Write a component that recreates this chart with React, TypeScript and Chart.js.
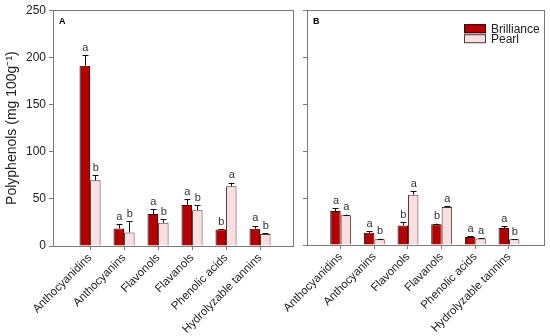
import React, { useEffect, useRef } from "react";
import { Chart, registerables } from "chart.js";

Chart.register(...registerables);

const categories = [
  "Anthocyanidins",
  "Anthocyanins",
  "Flavonols",
  "Flavanols",
  "Phenolic acids",
  "Hydrolyzable tannins",
];
const seriesNames = ["Brilliance", "Pearl"];
const yTicks = [0, 50, 100, 150, 200, 250];

// Panel A
const aBrilliance = [191, 18.6, 33.8, 43.6, 17.4, 18.3];
const aBrillianceErr = [11, 4.4, 5, 6, 0.4, 3];
const aBrillianceLetters = ["a", "a", "a", "a", "b", "a"];
const aPearl = [69.6, 14.4, 24.6, 38, 63.3, 12.7];
const aPearlErr = [5.5, 11.6, 3.6, 5, 3.8, 0.8];
const aPearlLetters = ["b", "b", "b", "b", "a", "b"];

// Panel B
const bBrilliance = [36.2, 13, 20.8, 22, 8.4, 18];
const bBrillianceErr = [3.2, 1.8, 3.4, 0.8, 0.7, 2];
const bBrillianceLetters = ["a", "a", "b", "b", "a", "a"];
const bPearl = [31.6, 6, 53.5, 40.4, 7, 6];
const bPearlErr = [0.8, 0.7, 3.5, 0.6, 0.3, 0.3];
const bPearlLetters = ["a", "b", "a", "a", "a", "b"];

const COLORS = {
  brilliance: "#b30000",
  brillianceBorder: "#3d0000",
  pearl: "#f9dfdf",
  pearlBorder: "#4d3a3a",
  frame: "#7a7a7a",
  text: "#222222",
};

const FONT = "'Liberation Sans', Arial, sans-serif";

type PanelProps = {
  panel: string;
  values: number[][];
  errors: number[][];
  letters: string[][];
  showYLabels: boolean;
  showLegend: boolean;
  xMin: number;
  xMax: number;
  width: number;
  yAxisWidth: number;
  rightPad: number;
  xAxisHeight: number;
  left: number;
};

function Panel(props: PanelProps) {
  const ref = useRef<HTMLCanvasElement | null>(null);
  useEffect(() => {
    if (!ref.current) return;
    const fills = [COLORS.brilliance, COLORS.pearl];
    const borders = [COLORS.brillianceBorder, COLORS.pearlBorder];
    const datasets = props.values.map((vals, di) => ({
      label: seriesNames[di],
      data: vals.map((v, i) => ({ x: i, y: v })),
      backgroundColor: fills[di],
      borderColor: borders[di],
      borderWidth: 1,
      borderSkipped: "bottom" as const,
      categoryPercentage: 0.62,
      barPercentage: 1.0,
    }));

    const overlay = {
      id: "overlay",
      afterDatasetsDraw(chart: any) {
        const ctx = chart.ctx;
        const ys = chart.scales.y;
        const area = chart.chartArea;
        ctx.save();
        // error bars and letters
        chart.data.datasets.forEach((ds: any, di: number) => {
          const meta = chart.getDatasetMeta(di);
          meta.data.forEach((el: any, i: number) => {
            const top = ys.getPixelForValue(props.values[di][i] + props.errors[di][i]);
            ctx.strokeStyle = "#111";
            ctx.lineWidth = 1;
            ctx.beginPath();
            ctx.moveTo(Math.round(el.x) + 0.5, el.y);
            ctx.lineTo(Math.round(el.x) + 0.5, top);
            ctx.moveTo(Math.round(el.x) - 2.5, Math.round(top) + 0.5);
            ctx.lineTo(Math.round(el.x) + 3.5, Math.round(top) + 0.5);
            ctx.stroke();
            ctx.fillStyle = "#333";
            ctx.font = `11px ${FONT}`;
            ctx.textAlign = "center";
            ctx.textBaseline = "bottom";
            ctx.fillText(props.letters[di][i], el.x + 0.5, top - 2);
          });
        });
        // frame
        ctx.strokeStyle = COLORS.frame;
        ctx.lineWidth = 1;
        ctx.strokeRect(
          Math.round(area.left) + 0.5,
          Math.round(area.top) + 0.5,
          Math.round(area.right - area.left),
          Math.round(area.bottom - area.top)
        );
        // panel letter
        ctx.fillStyle = "#000";
        ctx.font = `bold 9px ${FONT}`;
        ctx.textAlign = "left";
        ctx.textBaseline = "middle";
        ctx.fillText(props.panel, area.left + 6, area.top + 11);
        // legend
        if (props.showLegend) {
          chart.data.datasets.forEach((ds: any, di: number) => {
            const bx = area.right - 80;
            const by = area.top + 14 + di * 10;
            ctx.fillStyle = ds.backgroundColor;
            ctx.fillRect(bx, by, 22, 9);
            ctx.strokeStyle = ds.borderColor;
            ctx.strokeRect(bx + 0.5, by + 0.5, 21, 8);
            ctx.fillStyle = COLORS.text;
            ctx.font = `12px ${FONT}`;
            ctx.textBaseline = "middle";
            ctx.textAlign = "left";
            ctx.fillText(ds.label, bx + 27, by + 5);
          });
        }
        ctx.restore();
      },
    };

    const chart = new Chart(ref.current, {
      type: "bar",
      data: { datasets },
      options: {
        animation: false,
        responsive: false,
        maintainAspectRatio: false,
        layout: { padding: { top: 9, right: props.rightPad, left: 0, bottom: 0 } },
        plugins: { legend: { display: false }, tooltip: { enabled: false } },
        scales: {
          x: {
            type: "linear",
            offset: false,
            min: props.xMin,
            max: props.xMax,
            afterBuildTicks: (s: any) => {
              s.ticks = categories.map((_, i) => ({ value: i }));
            },
            afterFit: (s: any) => {
              s.height = props.xAxisHeight;
            },
            grid: {
              offset: false,
              drawOnChartArea: false,
              drawTicks: true,
              tickLength: 4,
              color: COLORS.frame,
            },
            border: { color: COLORS.frame },
            ticks: {
              autoSkip: false,
              maxRotation: 45,
              minRotation: 45,
              padding: 1,
              color: COLORS.text,
              font: { family: FONT, size: 11.5 },
              callback: (v: any) => categories[Math.round(Number(v))] ?? "",
            },
          },
          y: {
            min: 0,
            max: 250,
            afterBuildTicks: (s: any) => {
              s.ticks = yTicks.map((v) => ({ value: v }));
            },
            afterFit: (s: any) => {
              s.width = props.yAxisWidth;
            },
            grid: {
              drawOnChartArea: false,
              drawTicks: true,
              tickLength: 4,
              color: COLORS.frame,
            },
            border: { color: COLORS.frame },
            ticks: {
              padding: 3,
              color: COLORS.text,
              font: { family: FONT, size: 12 },
              callback: (v: any) => (props.showYLabels ? String(v) : ""),
            },
            title: {
              display: props.showYLabels,
              text: "Polyphenols (mg 100g⁻¹)",
              color: COLORS.text,
              font: { family: FONT, size: 14 },
              padding: { top: 4, bottom: 4 },
            },
          },
        },
      },
      plugins: [overlay],
    });
    return () => chart.destroy();
  }, []);

  return (
    <canvas
      ref={ref}
      width={props.width}
      height={336}
      style={{ position: "absolute", left: props.left, top: 0, width: props.width, height: 336 }}
    />
  );
}

export default function App() {
  return (
    <div
      style={{
        position: "absolute",
        left: 0,
        top: 0,
        width: 550,
        height: 336,
        background: "#fff",
        overflow: "hidden",
      }}
    >
      <Panel
        panel="A"
        values={[aBrilliance, aPearl]}
        errors={[aBrillianceErr, aPearlErr]}
        letters={[aBrillianceLetters, aPearlLetters]}
        showYLabels={true}
        showLegend={false}
        xMin={-1.09}
        xMax={5.97}
        width={300}
        yAxisWidth={53}
        rightPad={7}
        xAxisHeight={90}
        left={0}
      />
      <Panel
        panel="B"
        values={[bBrilliance, bPearl]}
        errors={[bBrillianceErr, bPearlErr]}
        letters={[bBrillianceLetters, bPearlLetters]}
        showYLabels={false}
        showLegend={true}
        xMin={-1.0}
        xMax={6.04}
        width={300}
        yAxisWidth={57}
        rightPad={6}
        xAxisHeight={91}
        left={250}
      />
    </div>
  );
}
